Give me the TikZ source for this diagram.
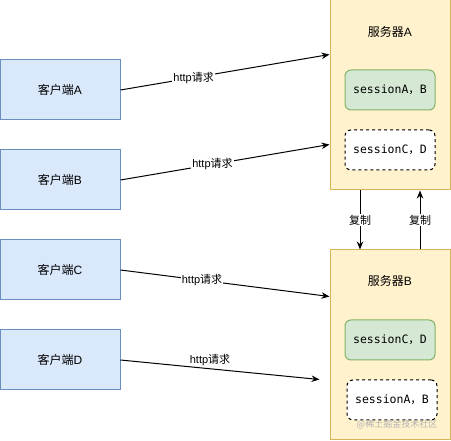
\documentclass[tikz,border=0pt]{standalone}
\usepackage{fontspec}
\setmainfont{Liberation Sans}
\newfontfamily\cjk{Noto Sans CJK SC}
\newfontfamily\mono{DejaVu Sans Mono}
\usetikzlibrary{arrows.meta}
\definecolor{cfill}{HTML}{DAE8FC}
\definecolor{cdraw}{HTML}{6C8EBF}
\definecolor{sfill}{HTML}{FFF2CC}
\definecolor{sdraw}{HTML}{D6B656}
\definecolor{gfill}{HTML}{D5E8D4}
\definecolor{gdraw}{HTML}{82B366}
\tikzset{
  client/.style={draw=cdraw, fill=cfill, line width=1pt, minimum width=120pt, minimum height=60pt, inner sep=0pt, font=\fontsize{12}{14}\selectfont},
  server/.style={draw=sdraw, fill=sfill, line width=1pt, minimum width=120pt, minimum height=190pt, inner sep=0pt},
  title/.style={font=\fontsize{12}{14}\selectfont, inner sep=0pt},
  sessg/.style={draw=gdraw, fill=gfill, line width=1pt, rounded corners=6pt, minimum width=90pt, minimum height=40pt, inner sep=0pt, font=\fontsize{11.5}{14}\selectfont},
  sessd/.style={draw=black, fill=white, dashed, line width=1pt, rounded corners=6pt, minimum width=90pt, minimum height=40pt, inner sep=0pt, font=\fontsize{11.5}{14}\selectfont},
  conn/.style={draw=black, line width=1pt, -{Stealth[length=8pt,width=6.5pt]}},
  lbl/.style={fill=white, inner sep=1pt, font=\fontsize{11}{13}\selectfont},
  wm/.style={text=black!30, font=\fontsize{9}{11}\selectfont, inner sep=0pt}
}
\begin{document}
\begin{tikzpicture}[x=1pt,y=-1pt]
\useasboundingbox (0,0) rectangle (451,441);
% servers
\node[server] (sA) at (390,95) {};
\node[server] (sB) at (390,345) {};
\node[title] (tA) at (390,32) {{\cjk 服务器}A};
\node[title] (tB) at (390,281) {{\cjk 服务器}B};
\node[sessg] (gA) at (390,90) {{\mono sessionA}{\cjk ，}{\mono B}};
\node[sessd] (dA) at (390,150) {{\mono sessionC}{\cjk ，}{\mono D}};
\node[sessg] (gB) at (390,340) {{\mono sessionC}{\cjk ，}{\mono D}};
\node[sessd] (dB) at (392,400) {{\mono sessionA}{\cjk ，}{\mono B}};
\node[wm] (wm) at (397,424) {{\cjk @稀土掘金技术社区}};
% clients
\node[client] (cA) at (60,90) {{\cjk 客户端}A};
\node[client] (cB) at (60,180) {{\cjk 客户端}B};
\node[client] (cC) at (60,270) {{\cjk 客户端}C};
\node[client] (cD) at (60,360) {{\cjk 客户端}D};
% requests
\draw[conn] (cA.east) -- node[lbl, pos=0.35] (lA) {http{\cjk 请求}} ([yshift=-55pt]sA.north west);
\draw[conn] (cB.east) -- node[lbl, pos=0.44] (lB) {http{\cjk 请求}} ([yshift=-145pt]sA.north west);
\draw[conn] (cC.east) -- node[lbl, pos=0.39] (lC) {http{\cjk 请求}} ([yshift=-47pt]sB.north west);
\draw[conn] (cD.east) -- node[lbl, pos=0.45, yshift=9pt, fill=none] (lD) {http{\cjk 请求}} ([yshift=-130pt, xshift=-10pt]sB.north west);
% replication
\draw[conn] ([xshift=-30pt]sA.south) -- node[lbl] (r1) {\cjk 复制} ([xshift=-30pt]sB.north);
\draw[conn] ([xshift=30pt]sB.north) -- node[lbl] (r2) {\cjk 复制} ([xshift=30pt]sA.south);
\end{tikzpicture}
\end{document}
